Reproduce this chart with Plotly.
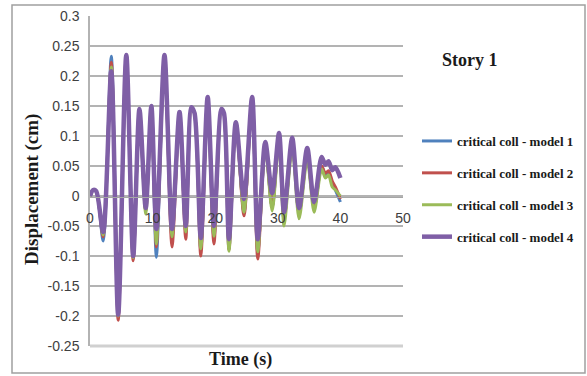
import plotly.graph_objects as go

# ---- data ----
time_s = [0, 0.5, 1.0, 2.1, 3.4, 4.5, 5.8, 6.9, 7.9, 8.9, 9.8, 10.6, 11.9, 13.1,
          14.3, 15.3, 16.2, 16.7, 17.7, 18.8, 19.8, 21.0, 21.4, 22.2, 23.3, 24.6,
          25.9, 26.8, 28.0, 29.1, 30.2, 31.0, 32.3, 33.4, 34.7, 35.8, 37.0, 37.6,
          38.1, 38.7, 39.2, 40.0]

model1 = [0, 0.01, 0.008, -0.075, 0.233, -0.2, 0.235, -0.103, 0.145, -0.025, 0.15,
          -0.102, 0.235, -0.07, 0.14, -0.06, 0.148, 0.138, -0.09, 0.165, -0.07,
          0.145, 0.138, -0.088, 0.123, -0.028, 0.165, -0.095, 0.085, -0.02, 0.1,
          -0.04, 0.09, -0.03, 0.07, -0.02, 0.05, 0.035, 0.04, 0.02, 0.01, -0.01]

model2 = [0, 0.01, 0.008, -0.068, 0.223, -0.207, 0.235, -0.108, 0.145, -0.025, 0.15,
          -0.085, 0.235, -0.085, 0.14, -0.072, 0.148, 0.138, -0.1, 0.165, -0.08,
          0.145, 0.138, -0.09, 0.123, -0.033, 0.165, -0.105, 0.085, -0.02, 0.1,
          -0.04, 0.09, -0.03, 0.07, -0.02, 0.05, 0.038, 0.042, 0.025, 0.015, -0.005]

model3 = [0, 0.01, 0.008, -0.065, 0.215, -0.2, 0.235, -0.103, 0.145, -0.03, 0.15,
          -0.08, 0.235, -0.068, 0.14, -0.06, 0.148, 0.138, -0.088, 0.165, -0.067,
          0.145, 0.138, -0.092, 0.123, -0.027, 0.165, -0.093, 0.08, -0.025, 0.09,
          -0.05, 0.08, -0.038, 0.06, -0.027, 0.045, 0.03, 0.035, 0.015, 0.01, 0.0]

model4 = [0, 0.01, 0.008, -0.06, 0.208, -0.198, 0.235, -0.1, 0.145, -0.02, 0.15,
          -0.055, 0.235, -0.055, 0.14, -0.05, 0.148, 0.138, -0.07, 0.165, -0.05,
          0.145, 0.138, -0.072, 0.123, -0.005, 0.165, -0.072, 0.09, 0.005, 0.105,
          -0.027, 0.097, -0.02, 0.08, -0.01, 0.065, 0.052, 0.058, 0.043, 0.048, 0.03]

series_names = ["critical coll - model 1", "critical coll - model 2",
                "critical coll - model 3", "critical coll - model 4"]

y_tick_vals = [-0.25, -0.2, -0.15, -0.1, -0.05, 0, 0.05, 0.1, 0.15, 0.2, 0.25, 0.3]
y_tick_text = ["-0.25", "-0.2", "-0.15", "-0.1", "-0.05", "0", "0.05", "0.1",
               "0.15", "0.2", "0.25", "0.3"]
x_tick_vals = [0, 10, 20, 30, 40, 50]
x_tick_text = ["0", "10", "20", "30", "40", "50"]

colors = ["#4F81BD", "#C0504D", "#9BBB59", "#7F5FA6"]
widths = [3, 3, 3, 4.5]

fig = go.Figure()
for name, vals, c, w in zip(series_names, [model1, model2, model3, model4], colors, widths):
    fig.add_trace(go.Scatter(
        x=time_s, y=vals, mode="lines", name=name, legendgroup=name,
        line=dict(color=c, width=w, shape="spline", smoothing=0.8),
    ))

W, H = 587, 376
L, R, T, B = 90, 184, 16, 30
pw, ph = W - L - R, H - T - B

def px(x):
    return (x - L) / pw

def py(y):
    return (H - B - y) / ph

fig.update_layout(
    width=W, height=H,
    margin=dict(l=L, r=R, t=T, b=B, autoexpand=False),
    paper_bgcolor="white", plot_bgcolor="white",
    showlegend=True,
    legend=dict(x=px(417), y=py(126), xanchor="left", yanchor="top",
                font=dict(family="Liberation Serif", size=13, color="#1a1a1a", weight="bold"),
                tracegroupgap=12, bgcolor="rgba(0,0,0,0)", itemwidth=30),
    xaxis=dict(range=[0, 50], tickvals=x_tick_vals, ticktext=x_tick_text,
               showgrid=False, zeroline=False, showline=True, linecolor="#a6a6a6",
               linewidth=1, anchor="free", position=py(197), ticks="",
               ticklabelstandoff=8,
               tickfont=dict(family="Liberation Sans", size=14, color="#404040")),
    yaxis=dict(range=[-0.25, 0.3], tickvals=y_tick_vals, ticktext=y_tick_text,
               showgrid=True, gridcolor="#b3b3b3", gridwidth=1.5, zeroline=False,
               showline=True, linecolor="#b3b3b3", linewidth=1.5, ticks="",
               ticklabelstandoff=6,
               tickfont=dict(family="Liberation Sans", size=14, color="#404040")),
    font=dict(family="Liberation Serif"),
)

# outer chart border
fig.add_shape(type="rect", xref="paper", yref="paper",
              x0=px(12), x1=px(585), y0=py(373), y1=py(5),
              line=dict(color="#a0a0a0", width=1.5), layer="below")
# bottom frame line of the plot area
fig.add_shape(type="line", xref="paper", yref="paper",
              x0=0, x1=1, y0=0, y1=0, line=dict(color="#d0d0d0", width=3), layer="below")

fig.add_annotation(text="<b>Displacement (cm)</b>", xref="paper", yref="paper",
                   x=px(32), y=py(190), textangle=-90, showarrow=False,
                   xanchor="center", yanchor="middle",
                   font=dict(family="Liberation Serif", size=19, color="#1a1a1a"))
fig.add_annotation(text="<b>Time (s)</b>", xref="paper", yref="paper",
                   x=px(240), y=py(359), showarrow=False,
                   xanchor="center", yanchor="middle",
                   font=dict(family="Liberation Serif", size=18, color="#1a1a1a"))
fig.add_annotation(text="<b>Story 1</b>", xref="paper", yref="paper",
                   x=px(470), y=py(60), showarrow=False,
                   xanchor="center", yanchor="middle",
                   font=dict(family="Liberation Serif", size=18, color="#1a1a1a"))

fig.write_html("out.html")
